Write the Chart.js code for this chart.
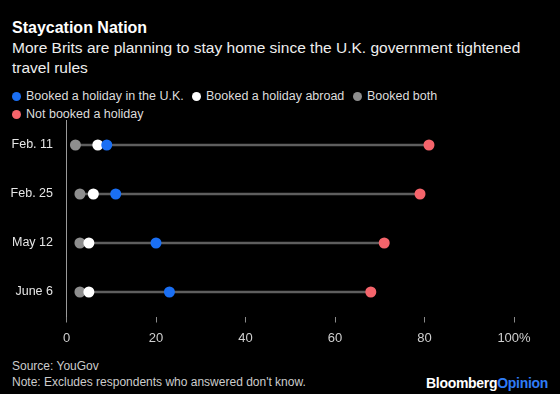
<!DOCTYPE html>
<html>
<head>
<meta charset="utf-8">
<script src="https://cdn.jsdelivr.net/npm/chart.js@4"></script>
<style>
  body { margin: 0; background: #000; width: 560px; height: 394px; overflow: hidden; font-family: "Liberation Sans", Arial, sans-serif; color: #fff; position: relative; }
  .title { position: absolute; left: 12px; top: 19px; font-size: 16px; font-weight: bold; }
  .sub { position: absolute; left: 12px; top: 38px; font-size: 15.5px; line-height: 20px; width: 540px; color: #eee; }
  .legend { position: absolute; left: 12px; top: 89px; font-size: 12.5px; color: #ddd; width: 540px; }
  .legend span.item { position: absolute; white-space: nowrap; }
  .legend i { display: inline-block; width: 9px; height: 9px; border-radius: 50%; margin-right: 5px; vertical-align: -1px; }
  .chart { position: absolute; left: 0; top: 101px; width: 560px; height: 247px; }
  .chart canvas { display: block; }
  .foot { position: absolute; left: 12px; top: 358px; font-size: 12px; line-height: 16px; color: #ccc; }
  .logo { position: absolute; right: 12px; top: 375px; font-size: 14px; font-weight: bold; letter-spacing: -0.3px; }
  .logo b { color: #2f7cf6; }
</style>
</head>
<body>
<div class="title">Staycation Nation</div>
<div class="sub">More Brits are planning to stay home since the U.K. government tightened travel rules</div>
<div class="legend" id="legend"></div>
<div class="chart"><canvas id="c" width="560" height="247"></canvas></div>
<div class="foot">Source: YouGov<br>Note: Excludes respondents who answered don't know.</div>
<div class="logo">Bloomberg<b>Opinion</b></div>
<script>
const dates = ["Feb. 11", "Feb. 25", "May 12", "June 6"];
const bookedUK = [9, 11, 20, 23];
const bookedAbroad = [7, 6, 5, 5];
const bookedBoth = [2, 3, 3, 3];
const notBooked = [81, 79, 71, 68];
const xTicks = [0, 20, 40, 60, 80, 100];

const series = [
  { label: "Booked a holiday in the U.K.", data: bookedUK, color: "#1a6ff4", left: 0, row: 0 },
  { label: "Booked a holiday abroad", data: bookedAbroad, color: "#ffffff", left: 180, row: 0 },
  { label: "Booked both", data: bookedBoth, color: "#8e8e8e", left: 341, row: 0 },
  { label: "Not booked a holiday", data: notBooked, color: "#f5646b", left: 0, row: 1 },
];

// html legend, wraps like the original
const legend = document.getElementById("legend");
series.forEach((s) => {
  const span = document.createElement("span");
  span.className = "item";
  span.style.left = s.left + "px";
  span.style.top = s.row * 18 + "px";
  span.innerHTML = `<i style="background:${s.color}"></i>${s.label}`;
  legend.appendChild(span);
});

const ranges = dates.map((d, i) => {
  const vals = series.map((s) => s.data[i]);
  return [Math.min(...vals), Math.max(...vals)];
});

// draw order: first dataset ends up on top
const dotOrder = [3, 0, 1, 2];
const dotSets = dotOrder.map((k, n) => ({
  type: "scatter",
  label: series[k].label,
  data: series[k].data.map((v, i) => ({ x: v, y: dates[i] })),
  backgroundColor: series[k].color,
  borderWidth: 0,
  pointRadius: 5.5,
  order: n,
}));

new Chart(document.getElementById("c"), {
  data: {
    labels: dates,
    datasets: [
      ...dotSets,
      {
        type: "bar",
        indexAxis: "y",
        data: ranges,
        backgroundColor: "#5e5e5e",
        barThickness: 2,
        order: 10,
      },
    ],
  },
  options: {
    responsive: false,
    animation: false,
    layout: { padding: { top: 19.5, right: 46, left: 0, bottom: 0 } },
    plugins: { legend: { display: false }, tooltip: { enabled: false } },
    scales: {
      x: {
        type: "linear",
        min: 0,
        max: 100,
        afterBuildTicks: (s) => { s.ticks = xTicks.map((v) => ({ value: v })); },
        afterFit: (s) => { s.height = 31.5; },
        border: { display: false },
        grid: { drawOnChartArea: false, drawTicks: true, tickLength: 6, color: "#8a8a8a", tickColor: "#8a8a8a" },
        ticks: {
          padding: 8,
          color: "#cfcfcf",
          font: { family: "Liberation Sans", size: 13 },
          callback: (v) => (v === 100 ? "100%" : v),
        },
      },
      y: {
        type: "category",
        labels: dates,
        offset: true,
        afterFit: (s) => { s.width = 66.5; },
        border: { display: true, color: "#9a9a9a", width: 1 },
        grid: { display: false },
        ticks: { padding: 5.5, color: "#e6e6e6", font: { family: "Liberation Sans", size: 12.5 } },
      },
    },
  },
});
</script>
</body>
</html>
